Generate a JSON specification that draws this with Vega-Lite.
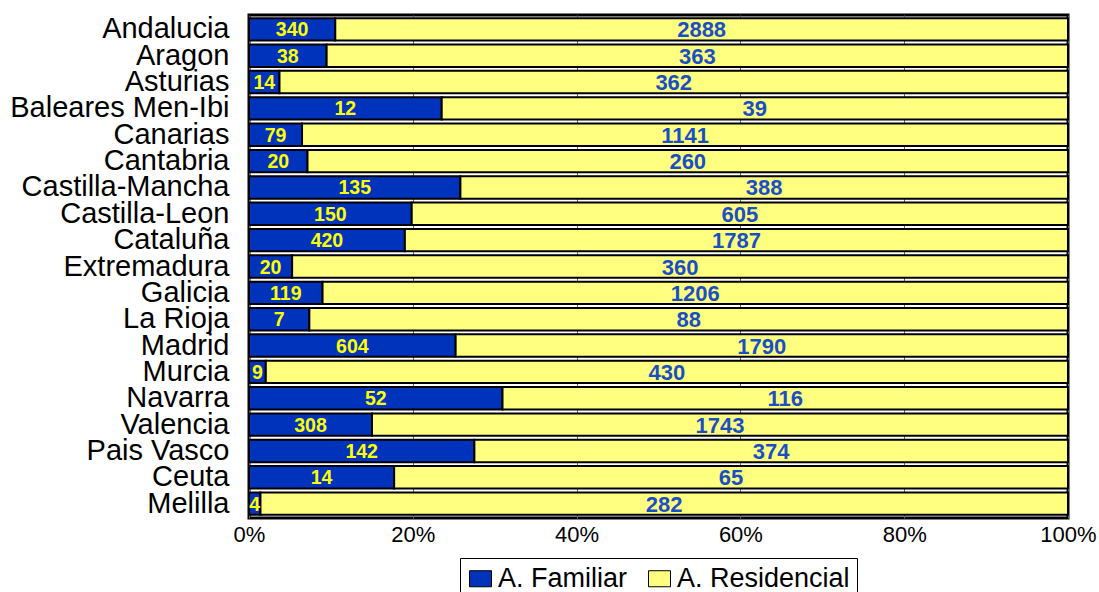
{
  "$schema": "https://vega.github.io/schema/vega-lite/v6.json",
  "width": 819,
  "height": 503,
  "autosize": {"type": "none"},
  "padding": {"left": 249, "top": 15, "right": 31, "bottom": 74},
  "background": "white",
  "config": {
    "font": "Liberation Sans",
    "view": {"stroke": "black", "strokeWidth": 3}
  },
  "data": {
    "values": [
      {"region": "Andalucia", "tipo": "A. Familiar", "valor": 340},
      {"region": "Andalucia", "tipo": "A. Residencial", "valor": 2888},
      {"region": "Aragon", "tipo": "A. Familiar", "valor": 38},
      {"region": "Aragon", "tipo": "A. Residencial", "valor": 363},
      {"region": "Asturias", "tipo": "A. Familiar", "valor": 14},
      {"region": "Asturias", "tipo": "A. Residencial", "valor": 362},
      {"region": "Baleares Men-Ibi", "tipo": "A. Familiar", "valor": 12},
      {"region": "Baleares Men-Ibi", "tipo": "A. Residencial", "valor": 39},
      {"region": "Canarias", "tipo": "A. Familiar", "valor": 79},
      {"region": "Canarias", "tipo": "A. Residencial", "valor": 1141},
      {"region": "Cantabria", "tipo": "A. Familiar", "valor": 20},
      {"region": "Cantabria", "tipo": "A. Residencial", "valor": 260},
      {"region": "Castilla-Mancha", "tipo": "A. Familiar", "valor": 135},
      {"region": "Castilla-Mancha", "tipo": "A. Residencial", "valor": 388},
      {"region": "Castilla-Leon", "tipo": "A. Familiar", "valor": 150},
      {"region": "Castilla-Leon", "tipo": "A. Residencial", "valor": 605},
      {"region": "Cataluña", "tipo": "A. Familiar", "valor": 420},
      {"region": "Cataluña", "tipo": "A. Residencial", "valor": 1787},
      {"region": "Extremadura", "tipo": "A. Familiar", "valor": 20},
      {"region": "Extremadura", "tipo": "A. Residencial", "valor": 360},
      {"region": "Galicia", "tipo": "A. Familiar", "valor": 119},
      {"region": "Galicia", "tipo": "A. Residencial", "valor": 1206},
      {"region": "La Rioja", "tipo": "A. Familiar", "valor": 7},
      {"region": "La Rioja", "tipo": "A. Residencial", "valor": 88},
      {"region": "Madrid", "tipo": "A. Familiar", "valor": 604},
      {"region": "Madrid", "tipo": "A. Residencial", "valor": 1790},
      {"region": "Murcia", "tipo": "A. Familiar", "valor": 9},
      {"region": "Murcia", "tipo": "A. Residencial", "valor": 430},
      {"region": "Navarra", "tipo": "A. Familiar", "valor": 52},
      {"region": "Navarra", "tipo": "A. Residencial", "valor": 116},
      {"region": "Valencia", "tipo": "A. Familiar", "valor": 308},
      {"region": "Valencia", "tipo": "A. Residencial", "valor": 1743},
      {"region": "Pais Vasco", "tipo": "A. Familiar", "valor": 142},
      {"region": "Pais Vasco", "tipo": "A. Residencial", "valor": 374},
      {"region": "Ceuta", "tipo": "A. Familiar", "valor": 14},
      {"region": "Ceuta", "tipo": "A. Residencial", "valor": 65},
      {"region": "Melilla", "tipo": "A. Familiar", "valor": 4},
      {"region": "Melilla", "tipo": "A. Residencial", "valor": 282}
    ]
  },
  "transform": [
    {"calculate": "datum.tipo === 'A. Familiar' ? 0 : 1", "as": "orden"},
    {"stack": "valor", "groupby": ["region"], "sort": [{"field": "orden", "order": "ascending"}], "offset": "normalize", "as": ["x0", "x1"]},
    {"calculate": "(datum.x0 + datum.x1) / 2", "as": "xm"}
  ],
  "encoding": {
    "y": {
      "field": "region",
      "type": "nominal",
      "sort": null,
      "scale": {"paddingInner": 0.15, "paddingOuter": 0.12},
      "axis": {
        "title": null,
        "ticks": false,
        "domain": false,
        "labelFontSize": 29,
        "labelColor": "black",
        "labelPadding": 20,
        "labelLimit": 400,
        "labelOverlap": false,
        "labelFont": "Liberation Sans"
      }
    }
  },
  "layer": [
    {
      "mark": {"type": "bar", "stroke": "black", "strokeWidth": 2},
      "encoding": {
        "x": {
          "field": "x0",
          "type": "quantitative",
          "scale": {"domain": [0, 1], "nice": false},
          "axis": {
            "title": null,
            "format": "%",
            "values": [0, 0.2, 0.4, 0.6, 0.8, 1],
            "labelFontSize": 22,
            "labelColor": "black",
            "labelPadding": 6,
            "labelFlush": false,
            "grid": true,
            "gridColor": "#666666",
            "gridWidth": 1,
            "domain": false,
            "ticks": false
          }
        },
        "x2": {"field": "x1"},
        "fill": {
          "field": "tipo",
          "type": "nominal",
          "scale": {"domain": ["A. Familiar", "A. Residencial"], "range": ["#0033BB", "#FFFF80"]},
          "legend": {
            "title": null,
            "orient": "none",
            "legendX": 211,
            "legendY": 543,
            "direction": "horizontal",
            "symbolType": "M-1,-0.73H1V0.73H-1Z",
            "symbolSize": 484,
            "symbolStrokeColor": "black",
            "symbolStrokeWidth": 1,
            "labelFontSize": 27,
            "labelColor": "black",
            "labelOffset": 4,
            "labelLimit": 400,
            "columnPadding": 18,
            "strokeColor": "black",
            "padding": 7,
            "fillColor": "white"
          }
        }
      }
    },
    {
      "mark": {"type": "text", "fontWeight": "bold", "baseline": "middle", "align": "center", "dy": 1},
      "encoding": {
        "x": {"field": "xm", "type": "quantitative"},
        "text": {"field": "valor", "type": "quantitative"},
        "size": {
          "condition": {"test": "datum.tipo === 'A. Familiar'", "value": 19.5},
          "value": 22
        },
        "color": {
          "condition": {"test": "datum.tipo === 'A. Familiar'", "value": "#FFFF00"},
          "value": "#1A4FC4"
        }
      }
    }
  ]
}
